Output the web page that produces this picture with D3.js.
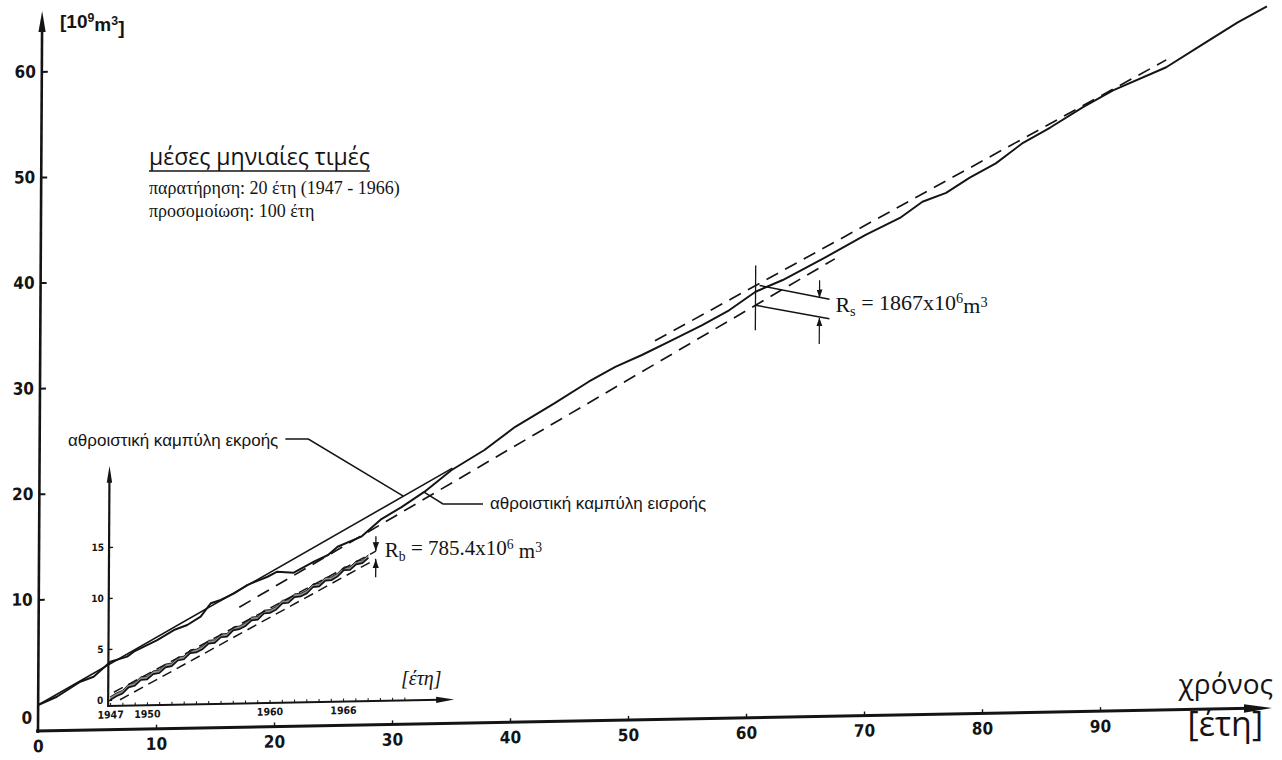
<!DOCTYPE html>
<html>
<head>
<meta charset="utf-8">
<script src="https://cdn.jsdelivr.net/npm/d3@7"></script>
<style>
  body { margin: 0; background: #fff; }
  svg { display: block; }
</style>
</head>
<body>
<svg id="chart" width="1282" height="760"></svg>
<script>
// ---- simulated 100-year series: cumulative inflow (10^9 m^3) ----
const simYears = [0, 1.58, 3.56, 4.69, 6.1, 7.52, 8.08, 10.06, 11.47, 12.6, 13.73, 14.58, 15.42, 16.55,
  17.69, 19.38, 20.2, 21.6, 23.3, 24.5, 25.3, 27.3, 29.0, 30.7, 32.65, 34.9, 37.7, 40.3,
  43.6, 46.5, 48.75, 51.0, 53.3, 56.1, 58.4, 60.6, 62.9, 66.5, 69.9, 72.8, 74.7, 76.7,
  78.7, 80.9, 83.2, 85.5, 88.3, 90.8, 95.3, 98.5, 101.3, 103.8];
const simVolume = [0, 0.75, 2.13, 2.58, 3.97, 4.42, 4.88, 5.94, 6.86, 7.31, 8.08, 9.33, 9.62, 10.23,
  11.0, 11.74, 12.2, 12.08, 13.09, 13.69, 14.46, 15.37, 17.0, 18.1, 19.52, 21.5, 23.36, 25.5,
  27.65, 29.64, 31.0, 32.08, 33.3, 34.81, 36.18, 37.87, 38.93, 41.0, 43.05, 44.6, 46.1, 46.9,
  48.3, 49.6, 51.5, 52.9, 54.8, 56.3, 58.4, 60.6, 62.5, 64.0];

// cumulative outflow (draft line)
const draftYears = [0, 35];
const draftVolume = [0, 21.7];

// tangent lines used for the storage of the simulated series
const simUpperYears = [52.1, 95.3];
const simUpperVolume = [33.4, 59.1];
const simLowerYears = [17, 67.3];
const simLowerVolume = [8.9, 40.84];
const simStorageYear = 60.6;
const simStorage = 1.867;          // 1867 x 10^6 m^3

// ---- observed series 1947-1966 (inset) ----
const obsYears = [1947, 1947.5, 1948, 1948.5, 1949, 1949.5, 1950, 1950.5, 1951, 1951.5, 1952, 1952.5,
  1953, 1953.5, 1954, 1954.5, 1955, 1955.5, 1956, 1956.5, 1957, 1957.5, 1958, 1958.5, 1959, 1959.5,
  1960, 1960.5, 1961, 1961.5, 1962, 1962.5, 1963, 1963.5, 1964, 1964.5, 1965, 1965.5, 1966, 1966.5,
  1967, 1967.5, 1968];
const obsVolume = [0, 0.35, 0.6, 1.2, 1.35, 1.9, 1.95, 2.45, 2.55, 3.1, 3.2, 3.75,
  3.85, 4.45, 4.5, 4.8, 5.35, 5.4, 5.95, 6.0, 6.6, 6.7, 7.0, 7.55, 7.6, 8.2,
  8.25, 8.55, 9.15, 9.2, 9.75, 9.8, 10.1, 10.7, 10.75, 11.3, 11.35, 11.7, 12.3, 12.3,
  12.85, 12.95, 13.45];
const obsUpperYears = [1947.3, 1968.6];
const obsUpperVolume = [0.75, 14.1];
const obsLowerYears = [1947.8, 1968.6];
const obsLowerVolume = [0.0, 13.31];
const obsStorageYear = 1968.6;
const obsStorage = 0.7854;         // 785.4 x 10^6 m^3

// ---- ticks ----
const xTicks = [0, 10, 20, 30, 40, 50, 60, 70, 80, 90];
const yTicks = [0, 10, 20, 30, 40, 50, 60];
const insetYTicks = [0, 5, 10, 15];
const insetYearTicks = d3.range(1947, 1972);
const insetYearLabels = [1947, 1950, 1960, 1966];

// ---------------------------------------------------------------
const ink = "#141414";
const narrow = "'Liberation Sans Narrow','DejaVu Sans Condensed','Liberation Sans',sans-serif";
const serif = "'Liberation Serif','DejaVu Serif',serif";
const sans = "'Liberation Sans',Arial,sans-serif";
const open = "'Open Sans','Noto Sans',sans-serif";

const svg = d3.select("#chart");
const defs = svg.append("defs");
defs.append("marker").attr("id", "tip")
  .attr("viewBox", "0 0 10 10").attr("refX", 10).attr("refY", 5)
  .attr("markerWidth", 7).attr("markerHeight", 7).attr("orient", "auto")
  .append("path").attr("d", "M0,1.5 L10,5 L0,8.5 Z").attr("fill", ink);

// the drawing sits on a slightly sheared frame
const OX = 38, OY = 731, SKX = -0.0058, SKY = -0.0187;
const toPage = (px, py) => [OX + px + SKX * py, OY + SKY * px + py];
const g = svg.append("g")
  .attr("transform", `translate(${OX},${OY}) matrix(1,${SKY},${SKX},1,0,0)`);

const x = d3.scaleLinear().domain([0, 100]).range([0, 1180]);
const y = d3.scaleLinear().domain([0, 60]).range([-26, -26 - 633.6]);
const ix = d3.scaleLinear().domain([1947, 1966]).range([72, 72 + 12.26 * 19]);
const iy = d3.scaleLinear().domain([0, 15]).range([-29.7, -29.7 - 153]);

const pairs = (xs, vs) => xs.map((v, i) => [v, vs[i]]);
const line = d3.line().x(d => x(d[0])).y(d => y(d[1]));
const iline = d3.line().x(d => ix(d[0])).y(d => iy(d[1]));

// ---- main axes ----
g.append("line").attr("x1", 0).attr("y1", 2).attr("x2", 0).attr("y2", -704)
  .attr("stroke", ink).attr("stroke-width", 2.6);
g.append("path").attr("d", "M0,-720 L-3.6,-699 L3.6,-699 Z").attr("fill", ink);
g.append("line").attr("x1", -2).attr("y1", 0).attr("x2", 1212).attr("y2", 0)
  .attr("stroke", ink).attr("stroke-width", 3);
g.append("path").attr("d", "M1234,0 L1206,-4.2 L1206,4.2 Z").attr("fill", ink);

const yAxis = g.append("g")
  .call(d3.axisLeft(y).tickValues(yTicks).tickSize(-6).tickPadding(6));
yAxis.select(".domain").remove();
yAxis.selectAll("line").attr("stroke", ink).attr("stroke-width", 2);
yAxis.selectAll("text").attr("font-family", narrow).attr("font-size", 17)
  .attr("font-weight", "bold").attr("fill", ink);
yAxis.selectAll(".tick").filter(d => d === 0).select("line").remove();
yAxis.selectAll(".tick").filter(d => d === 0).select("text").attr("dy", "1.05em");

const xAxis = g.append("g")
  .call(d3.axisBottom(x).tickValues(xTicks).tickSize(-4).tickPadding(9));
xAxis.select(".domain").remove();
xAxis.selectAll("line").attr("stroke", ink).attr("stroke-width", 1.4);
xAxis.selectAll(".tick").filter(d => d === 0).select("line").remove();
xAxis.selectAll("text").attr("font-family", narrow).attr("font-size", 17)
  .attr("font-weight", "bold").attr("fill", ink);

// ---- inset axes (observed period) ----
const iAxisY = -23.7;
g.append("line").attr("x1", 70).attr("y1", iAxisY + 1).attr("x2", 70).attr("y2", -250)
  .attr("stroke", ink).attr("stroke-width", 2.2);
g.append("path").attr("d", "M70,-264 L67.3,-247 L72.7,-247 Z").attr("fill", ink);
g.append("line").attr("x1", 69).attr("y1", iAxisY).attr("x2", 402).attr("y2", iAxisY)
  .attr("stroke", ink).attr("stroke-width", 2);
g.append("path").attr("d", `M416,${iAxisY} L398,${iAxisY - 3.2} L398,${iAxisY + 3.2} Z`).attr("fill", ink);

const iyAxis = g.append("g").attr("transform", "translate(70,0)")
  .call(d3.axisLeft(iy).tickValues(insetYTicks).tickSize(-4).tickPadding(5));
iyAxis.select(".domain").remove();
iyAxis.selectAll("line").attr("stroke", ink).attr("stroke-width", 1.4);
iyAxis.selectAll("text").attr("font-family", narrow).attr("font-size", 10)
  .attr("font-weight", "bold").attr("fill", ink);

const ixAxis = g.append("g").attr("transform", `translate(0,${iAxisY})`)
  .call(d3.axisBottom(ix).tickValues(insetYearTicks).tickSize(-3).tickPadding(5)
    .tickFormat(d => insetYearLabels.includes(d) ? String(d) : ""));
ixAxis.select(".domain").remove();
ixAxis.selectAll("line").attr("stroke", ink).attr("stroke-width", 1);
ixAxis.selectAll("text").attr("font-family", narrow).attr("font-size", 10.5)
  .attr("font-weight", "bold").attr("fill", ink);

// ---- observed cumulative inflow (inset) ----
const obs = pairs(obsYears, obsVolume);
g.append("path").datum(obs)
  .attr("d", d3.area().x(d => ix(d[0])).y0(d => iy(d[1])).y1(d => iy(d[1]) - 3.2))
  .attr("fill", "#8c8c8c");
g.append("path").datum(obs).attr("d", iline.y(d => iy(d[1]) - 3.2))
  .attr("fill", "none").attr("stroke", ink).attr("stroke-width", 0.9);
iline.y(d => iy(d[1]));
g.append("path").datum(obs).attr("d", iline)
  .attr("fill", "none").attr("stroke", ink).attr("stroke-width", 1.7);

[[obsUpperYears, obsUpperVolume], [obsLowerYears, obsLowerVolume]].forEach(([ys, vs]) => {
  g.append("path").datum(pairs(ys, vs)).attr("d", iline)
    .attr("fill", "none").attr("stroke", ink).attr("stroke-width", 1.5)
    .attr("stroke-dasharray", "10 6");
});

// storage marks of the observed series
const obsUpperAt = d3.scaleLinear().domain(obsUpperYears).range(obsUpperVolume)(obsStorageYear);
const xb = ix(obsStorageYear);
const ybu = iy(obsUpperAt);
const ybl = iy(obsUpperAt - obsStorage);
g.append("line").attr("x1", xb).attr("y1", ybu - 15).attr("x2", xb).attr("y2", ybu)
  .attr("stroke", ink).attr("stroke-width", 1.3).attr("marker-end", "url(#tip)");
g.append("line").attr("x1", xb).attr("y1", ybl + 18).attr("x2", xb).attr("y2", ybl)
  .attr("stroke", ink).attr("stroke-width", 1.3).attr("marker-end", "url(#tip)");

// ---- simulated series ----
g.append("path").datum(pairs(draftYears, draftVolume)).attr("d", line)
  .attr("fill", "none").attr("stroke", ink).attr("stroke-width", 1.6);
g.append("path").datum(pairs(simYears, simVolume)).attr("d", line)
  .attr("fill", "none").attr("stroke", ink).attr("stroke-width", 2)
  .attr("stroke-linejoin", "round");
[[simUpperYears, simUpperVolume], [simLowerYears, simLowerVolume]].forEach(([ys, vs]) => {
  g.append("path").datum(pairs(ys, vs)).attr("d", line)
    .attr("fill", "none").attr("stroke", ink).attr("stroke-width", 1.7)
    .attr("stroke-dasharray", "13 8");
});

// storage marks of the simulated series
const simUpperAt = d3.scaleLinear().domain(simUpperYears).range(simUpperVolume)(simStorageYear);
const xs = x(simStorageYear);
const yu = y(simUpperAt);
const yl = y(simUpperAt - simStorage);
const mark = (x1, y1, x2, y2, w, arrow) => {
  const l = g.append("line").attr("x1", x1).attr("y1", y1).attr("x2", x2).attr("y2", y2)
    .attr("stroke", ink).attr("stroke-width", w);
  if (arrow) l.attr("marker-end", "url(#tip)");
};
mark(xs, yu - 20, xs, yl + 25, 1.3, false);
mark(xs + 4, yu, xs + 74, yu + 15, 1.5, false);
mark(xs, yl, xs + 74, yl + 15, 1.5, false);
mark(xs + 64, yu - 4, xs + 64, yu + 13.6, 1.2, true);
mark(xs + 64, yl + 40, xs + 64, yl + 13.6, 1.2, true);

// ---- page texts ----
function supText(sel, parts) {
  parts.forEach(p => {
    const t = sel.append("tspan").text(p.t);
    if (p.s === "sup") t.attr("dy", p.dy || "-0.45em").attr("font-size", "65%");
    if (p.s === "sub") t.attr("dy", p.dy || "0.3em").attr("font-size", "65%");
    if (p.back) t.attr("dy", p.back);
  });
}

// unit label of the vertical axis
const unit = svg.append("text").attr("x", 60).attr("y", 28)
  .attr("font-family", sans).attr("font-weight", "bold").attr("font-size", 19).attr("fill", ink);
supText(unit, [{ t: "[10" }, { t: "9", s: "sup" }, { t: "m", back: "0.45em" },
  { t: "3", s: "sup" }, { t: "]", back: "0.45em" }]);

// title block
const title = svg.append("text").attr("x", 149).attr("y", 165)
  .attr("font-family", open).attr("font-size", 23).attr("fill", ink)
  .text("μέσες μηνιαίες τιμές");
const tw = title.node().getComputedTextLength();
svg.append("line").attr("x1", 149).attr("x2", 149 + tw).attr("y1", 171).attr("y2", 171)
  .attr("stroke", ink).attr("stroke-width", 1.4);
svg.append("text").attr("x", 149).attr("y", 194)
  .attr("font-family", serif).attr("font-size", 18).attr("fill", ink)
  .text("παρατήρηση: 20 έτη (1947 - 1966)");
svg.append("text").attr("x", 149).attr("y", 217)
  .attr("font-family", serif).attr("font-size", 18).attr("fill", ink)
  .text("προσομοίωση: 100 έτη");

// curve captions with leaders
const outLbl = svg.append("text").attr("x", 68).attr("y", 446)
  .attr("font-family", sans).attr("font-size", 17).attr("fill", ink)
  .text("αθροιστική καμπύλη εκροής");
const outEnd = 68 + outLbl.node().getComputedTextLength();
const draftAt = d3.scaleLinear().domain(draftYears).range(draftVolume);
const pOut = toPage(x(30.85), y(draftAt(30.85)));
svg.append("polyline")
  .attr("points", [[outEnd + 7, 439], [outEnd + 30, 439], pOut].map(p => p.join(",")).join(" "))
  .attr("fill", "none").attr("stroke", ink).attr("stroke-width", 1.5);

svg.append("text").attr("x", 490).attr("y", 509)
  .attr("font-family", sans).attr("font-size", 17).attr("fill", ink)
  .text("αθροιστική καμπύλη εισροής");
const simAt = d3.scaleLinear().domain(simYears).range(simVolume);
const pIn = toPage(x(32.6), y(simAt(32.6)));
svg.append("polyline")
  .attr("points", [[483, 504], [443, 504], pIn].map(p => p.join(",")).join(" "))
  .attr("fill", "none").attr("stroke", ink).attr("stroke-width", 1.5);

// storage values
const pRs = toPage(xs + 80, (yu + yl) / 2 + 18);
const rs = svg.append("text").attr("x", pRs[0]).attr("y", pRs[1])
  .attr("font-family", serif).attr("font-size", 22).attr("fill", ink);
supText(rs, [{ t: "R" }, { t: "s", s: "sub" }, { t: " = 1867x10", back: "-0.3em" },
  { t: "6", s: "sup" }, { t: "m", back: "0.45em" }, { t: "3", s: "sup" }]);

const pRb = toPage(xb + 9, (ybu + ybl) / 2 + 2);
const rb = svg.append("text").attr("x", pRb[0]).attr("y", pRb[1])
  .attr("font-family", serif).attr("font-size", 21).attr("fill", ink);
supText(rb, [{ t: "R" }, { t: "b", s: "sub" }, { t: " = 785.4x10", back: "-0.3em" },
  { t: "6", s: "sup" }, { t: " m", back: "0.45em" }, { t: "3", s: "sup" }]);

// inset time unit
svg.append("text").attr("x", 401).attr("y", 685)
  .attr("font-family", serif).attr("font-style", "italic").attr("font-size", 20).attr("fill", ink)
  .text("[έτη]");

// time axis captions
svg.append("text").attr("x", 1273).attr("y", 694).attr("text-anchor", "end")
  .attr("font-family", open).attr("font-size", 28).attr("fill", ink).text("χρόνος");
svg.append("text").attr("x", 1263).attr("y", 736).attr("text-anchor", "end")
  .attr("font-family", open).attr("font-size", 34).attr("fill", ink).text("[έτη]");
</script>
</body>
</html>
